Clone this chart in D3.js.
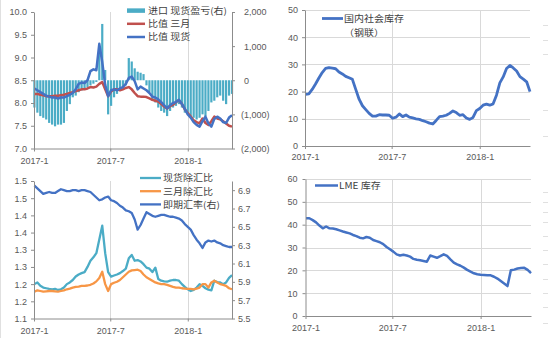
<!DOCTYPE html>
<html><head><meta charset="utf-8">
<script src="https://cdn.jsdelivr.net/npm/d3@7/dist/d3.min.js"></script>
<style>
html,body{margin:0;padding:0;background:#fff;}
svg{display:block;}
.tick text,.lbl{font-family:"Liberation Sans",Arial,sans-serif;font-size:9px;fill:#595959;}
.leg{font-family:"Noto Sans CJK SC",sans-serif;font-size:10px;fill:#404040;}
</style></head><body>
<svg id="c" width="548" height="338"></svg>
<script>
// ---- data (weekly observations starting 2017-01-02) ----
const firstDate = "2017-01-02";
const xTickLabels = ["2017-1", "2017-7", "2018-1"];
const xTickDateStr = ["2017-01-01", "2017-07-01", "2018-01-01"];

// top-left: 比值 现货 / 比值 三月 (left), 进口 现货盈亏 (right)
const ratioSpot = [8.32,8.28,8.24,8.2,8.16,8.14,8.12,8.12,8.1,8.12, 8.12,8.15,8.18,8.22,8.3,8.42,8.45,8.44,8.5,8.7, 8.74,8.72,9.3,8.9,8.4,8.15,8.28,8.3,8.28,8.32, 8.35,8.42,8.55,8.58,8.48,8.3,8.36,8.32,8.28,8.22, 8.14,8.12,8.08,8.02,7.95,7.88,7.95,8.0,8.02,8.07, 7.98,7.87,7.75,7.68,7.58,7.52,7.48,7.6,7.7,7.55, 7.48,7.65,7.7,7.66,7.58,7.56,7.68,7.73];
const ratio3M = [8.2,8.2,8.18,8.17,8.15,8.15,8.15,8.16,8.16,8.17, 8.18,8.2,8.22,8.24,8.26,8.28,8.3,8.3,8.32,8.35, 8.34,8.36,8.42,8.46,8.3,8.15,8.25,8.3,8.3,8.28, 8.3,8.33,8.35,8.3,8.22,8.15,8.14,8.14,8.13,8.1, 8.07,8.05,8.03,7.98,7.92,7.88,7.93,7.96,8.02,8.06, 7.98,7.86,7.78,7.7,7.62,7.58,7.55,7.66,7.56,7.52, 7.6,7.7,7.66,7.64,7.6,7.55,7.5,7.48];
const importPL = [-800,-950,-1050,-1100,-1150,-1250,-1300,-1350,-1300,-1300, -1250,-900,-700,-500,-450,-350,-300,-250,-200,-150, -100,-50,900,1650,300,-1000,-750,-500,-400,-300, -250,-150,650,550,350,250,220,180,-150,-350, -600,-650,-800,-900,-950,-1050,-900,-800,-750,-700, -800,-950,-1000,-1050,-1100,-1150,-1100,-1000,-1050,-900, -650,-600,-500,-450,-600,-700,-450,-400];
const tlLeftTicks = [7.0,7.5,8.0,8.5,9.0,9.5,10.0];
const tlRightTicks = [-2000,-1000,0,1000,2000];

// top-right: 国内社会库存（钢联）
const socialStock = [19.0,19.2,20.8,22.8,25.0,27.0,28.5,28.8,28.6,28.4, 27.2,26.5,25.6,25.1,24.5,20.8,17.2,14.8,13.4,12.0, 11.0,11.0,11.5,11.4,11.4,11.3,10.2,10.6,11.8,10.8, 11.4,10.6,10.3,10.0,9.8,9.3,8.9,8.4,8.1,9.4, 10.8,11.0,11.3,12.0,12.9,12.3,11.3,11.5,10.3,9.8, 10.5,13.0,13.8,15.0,15.4,15.0,15.5,18.7,23.2,25.4, 28.5,29.6,28.7,27.6,25.5,24.6,23.6,20.0];
const trTicks = [0,10,20,30,40,50];

// bottom-left: 现货除汇比 / 三月除汇比 (left), 即期汇率 (right)
const spotFxRatio = [1.2,1.205,1.195,1.19,1.188,1.186,1.185,1.186,1.183,1.185, 1.19,1.2,1.205,1.212,1.222,1.228,1.232,1.235,1.25,1.268, 1.278,1.29,1.33,1.37,1.29,1.235,1.222,1.225,1.228,1.232, 1.238,1.245,1.275,1.285,1.268,1.27,1.266,1.258,1.248,1.245, 1.235,1.248,1.215,1.21,1.208,1.207,1.21,1.212,1.212,1.21, 1.2,1.192,1.185,1.18,1.183,1.19,1.2,1.195,1.188,1.184, 1.182,1.21,1.206,1.205,1.2,1.205,1.218,1.226];
const m3FxRatio = [1.178,1.182,1.18,1.178,1.179,1.18,1.18,1.179,1.178,1.18, 1.182,1.185,1.187,1.19,1.192,1.193,1.195,1.195,1.196,1.198, 1.202,1.208,1.218,1.236,1.2,1.18,1.2,1.204,1.207,1.212, 1.22,1.228,1.236,1.24,1.241,1.242,1.238,1.228,1.22,1.215, 1.21,1.205,1.202,1.2,1.2,1.198,1.195,1.192,1.19,1.19, 1.188,1.187,1.186,1.186,1.185,1.187,1.19,1.2,1.2,1.19, 1.205,1.21,1.205,1.2,1.198,1.195,1.188,1.185];
const usdCny = [6.95,6.92,6.89,6.86,6.87,6.88,6.87,6.87,6.89,6.91, 6.9,6.89,6.89,6.9,6.9,6.89,6.9,6.9,6.89,6.88, 6.85,6.82,6.79,6.8,6.82,6.83,6.79,6.78,6.76,6.73, 6.71,6.68,6.67,6.65,6.58,6.47,6.52,6.59,6.66,6.64, 6.62,6.61,6.62,6.63,6.63,6.62,6.61,6.61,6.6,6.59, 6.57,6.53,6.5,6.47,6.41,6.36,6.32,6.27,6.33,6.35, 6.34,6.35,6.33,6.32,6.3,6.29,6.28,6.28];
const blLeftTicks = [1.10,1.15,1.20,1.25,1.30,1.35,1.40,1.45,1.50];
const blLeftTickLabels = ["1.1","1.2","1.2","1.3","1.3","1.4","1.4","1.5","1.5"];
const blRightTicks = [5.5,5.7,5.9,6.1,6.3,6.5,6.7,6.9];

// bottom-right: LME 库存
const lmeStock = [42.8,42.8,42.0,41.0,39.6,38.4,39.2,38.4,38.3,38.0, 37.5,37.0,36.6,36.2,35.5,35.0,34.3,34.0,34.6,34.3, 33.3,32.8,32.3,31.5,30.2,29.2,28.2,27.0,26.5,26.8, 26.5,26.0,25.0,24.6,24.4,24.1,23.8,26.5,26.0,25.5, 26.2,27.0,26.3,24.8,23.4,22.6,22.0,21.2,20.2,19.4, 18.7,18.3,18.1,18.0,17.9,17.8,17.2,16.4,15.3,14.2, 13.1,20.0,20.3,20.8,21.0,21.1,20.2,18.8];
const brTicks = [0,10,20,30,40,50,60];

// ---- drawing ----
const parse = d3.timeParse("%Y-%m-%d");
const d0 = parse(firstDate);
const dates = importPL.map((_, i) => d3.timeDay.offset(d0, 7 * i));
const xTickDates = xTickDateStr.map(parse);
const xDomain = [parse("2017-01-01"), parse("2018-04-16")];
const AXIS = "#8c8c8c", GRID = "#d9d9d9";
const svg = d3.select("#c");

// faint remnants of neighbouring sheet objects at the picture edges
svg.append("line").attr("x1", 0.5).attr("x2", 0.5).attr("y1", 0).attr("y2", 338).attr("stroke", "#e0e0e0");
[25, 40, 54, 110, 136, 192, 202, 212, 222, 236, 250, 264, 279, 293, 307, 323].forEach(yy =>
  svg.append("line").attr("x1", 543).attr("x2", 548).attr("y1", yy + 0.5).attr("y2", yy + 0.5).attr("stroke", "#e0e0e0"));

function styleAxis(g) {
  g.select(".domain").attr("stroke", AXIS);
  g.selectAll(".tick line").attr("stroke", AXIS);
  g.selectAll(".tick text").attr("fill", "#595959");
}

function legendText(g, x, y, t) {
  const el = g.append("text").attr("class", "leg").attr("x", x).attr("y", y).text(t);
  const w = el.node().getComputedTextLength();
  el.style("font-size", "9px").attr("textLength", w).attr("lengthAdjust", "spacingAndGlyphs");
  return el;
}

function makePanel(p) {
  const x = d3.scaleTime().domain(xDomain).range([p.x0, p.x1]);
  const g = svg.append("g");
  g.selectAll(".vg").data(xTickDates.slice(1)).join("line")
    .attr("x1", d => Math.round(x(d)) + 0.5).attr("x2", d => Math.round(x(d)) + 0.5)
    .attr("y1", p.y0).attr("y2", p.y1).attr("stroke", GRID).attr("stroke-width", 1);
  return {x, g};
}

function bottomAxis(P, p, pad) {
  P.g.append("g").attr("transform", `translate(0,${p.y1})`)
    .call(d3.axisBottom(P.x).tickValues(xTickDates).tickFormat((d, i) => xTickLabels[i])
      .tickSize(3).tickSizeOuter(0).tickPadding(pad))
    .call(styleAxis);
}

function lineOf(x, y, vals) {
  return d3.line().x((d, i) => x(dates[i])).y(d => y(d))(vals);
}

// ===== Top-left =====
{
  const p = {x0: 34, x1: 232, y0: 12, y1: 148.5};
  const P = makePanel(p);
  const yL = d3.scaleLinear().domain([7, 10]).range([p.y1, p.y0]);
  const yR = d3.scaleLinear().domain([-2000, 2000]).range([p.y1, p.y0]);
  P.g.selectAll(".bar").data(importPL).join("rect")
    .attr("x", (d, i) => P.x(dates[i]) - 1.1).attr("width", 2.2)
    .attr("y", d => Math.min(yR(d), yR(0))).attr("height", d => Math.abs(yR(d) - yR(0)))
    .attr("fill", "#4bacc6");
  P.g.append("path").attr("d", lineOf(P.x, yL, ratio3M)).attr("fill", "none")
    .attr("stroke", "#c0504d").attr("stroke-width", 2.5).attr("stroke-linejoin", "round");
  P.g.append("path").attr("d", lineOf(P.x, yL, ratioSpot)).attr("fill", "none")
    .attr("stroke", "#4472c4").attr("stroke-width", 2.5).attr("stroke-linejoin", "round");
  P.g.append("g").attr("transform", `translate(${p.x0},0)`)
    .call(d3.axisLeft(yL).tickValues(tlLeftTicks).tickFormat(d3.format(".1f")).tickSize(3).tickSizeOuter(0).tickPadding(4))
    .call(styleAxis);
  const ra = P.g.append("g").attr("transform", `translate(${p.x1},0)`)
    .call(d3.axisRight(yR).tickValues(tlRightTicks)
      .tickFormat(d => d < 0 ? "(" + d3.format(",")(-d) + ")" : d3.format(",")(d))
      .tickSize(3).tickSizeOuter(0).tickPadding(6))
    .call(styleAxis);
  ra.selectAll(".tick text").attr("fill", d => d < 0 ? "#ff0000" : "#595959")
    .attr("dx", d => d < 0 ? 0 : 3);
  bottomAxis(P, p, 6.4);
  const leg = [
    {t: "进口 现货盈亏(右)", c: "#4bacc6", w: 4.5, y: 10.6},
    {t: "比值 三月", c: "#c0504d", w: 2.5, y: 23.8},
    {t: "比值 现货", c: "#4472c4", w: 2.5, y: 37}
  ];
  leg.forEach(l => {
    P.g.append("line").attr("x1", 127).attr("x2", 145).attr("y1", l.y).attr("y2", l.y)
      .attr("stroke", l.c).attr("stroke-width", l.w);
    legendText(P.g, 148, l.y + 3.4, l.t);
  });
}

// ===== Top-right =====
{
  const p = {x0: 305, x1: 530, y0: 10, y1: 146};
  const P = makePanel(p);
  const y = d3.scaleLinear().domain([0, 50]).range([p.y1, p.y0]);
  P.g.selectAll(".hg").data(trTicks.slice(1)).join("line")
    .attr("x1", p.x0).attr("x2", p.x1).attr("y1", d => Math.round(y(d)) + 0.5).attr("y2", d => Math.round(y(d)) + 0.5)
    .attr("stroke", GRID);
  P.g.append("path").attr("d", lineOf(P.x, y, socialStock)).attr("fill", "none")
    .attr("stroke", "#4472c4").attr("stroke-width", 2.8).attr("stroke-linejoin", "round");
  P.g.append("g").attr("transform", `translate(${p.x0},0)`)
    .call(d3.axisLeft(y).tickValues(trTicks).tickFormat(d3.format("d")).tickSize(3).tickSizeOuter(0).tickPadding(4))
    .call(styleAxis);
  bottomAxis(P, p, 5);
  P.g.append("line").attr("x1", 322).attr("x2", 343).attr("y1", 18.5).attr("y2", 18.5)
    .attr("stroke", "#4472c4").attr("stroke-width", 2.8);
  legendText(P.g, 344, 22, "国内社会库存");
  legendText(P.g, 344, 36, "（钢联）");
}

// ===== Bottom-left =====
{
  const p = {x0: 34, x1: 232, y0: 181, y1: 318.5};
  const P = makePanel(p);
  const yL = d3.scaleLinear().domain([1.1, 1.5]).range([p.y1, p.y0]);
  const yR = d3.scaleLinear().domain([5.5, 7.0]).range([p.y1, p.y0]);
  P.g.append("path").attr("d", lineOf(P.x, yL, spotFxRatio)).attr("fill", "none")
    .attr("stroke", "#4bacc6").attr("stroke-width", 2.3).attr("stroke-linejoin", "round");
  P.g.append("path").attr("d", lineOf(P.x, yL, m3FxRatio)).attr("fill", "none")
    .attr("stroke", "#f79646").attr("stroke-width", 2.3).attr("stroke-linejoin", "round");
  P.g.append("path").attr("d", lineOf(P.x, yR, usdCny)).attr("fill", "none")
    .attr("stroke", "#4472c4").attr("stroke-width", 2.3).attr("stroke-linejoin", "round");
  P.g.append("g").attr("transform", `translate(${p.x0},0)`)
    .call(d3.axisLeft(yL).tickValues(blLeftTicks).tickFormat((d, i) => blLeftTickLabels[i]).tickSize(3).tickSizeOuter(0).tickPadding(4))
    .call(styleAxis);
  P.g.append("g").attr("transform", `translate(${p.x1},0)`)
    .call(d3.axisRight(yR).tickValues(blRightTicks).tickFormat(d3.format(".1f")).tickSize(3).tickSizeOuter(0).tickPadding(3))
    .call(styleAxis);
  bottomAxis(P, p, 6.4);
  const leg = [
    {t: "现货除汇比", c: "#4bacc6", y: 178},
    {t: "三月除汇比", c: "#f79646", y: 191.2},
    {t: "即期汇率(右)", c: "#4472c4", y: 204.4}
  ];
  leg.forEach(l => {
    P.g.append("line").attr("x1", 140).attr("x2", 161).attr("y1", l.y).attr("y2", l.y)
      .attr("stroke", l.c).attr("stroke-width", 2.3);
    legendText(P.g, 163, l.y + 3.4, l.t);
  });
}

// ===== Bottom-right =====
{
  const p = {x0: 305.5, x1: 531, y0: 179, y1: 316};
  const P = makePanel(p);
  const y = d3.scaleLinear().domain([0, 60]).range([p.y1, p.y0]);
  P.g.selectAll(".hg").data(brTicks.slice(1)).join("line")
    .attr("x1", p.x0).attr("x2", p.x1).attr("y1", d => Math.round(y(d)) + 0.5).attr("y2", d => Math.round(y(d)) + 0.5)
    .attr("stroke", GRID);
  P.g.append("path").attr("d", lineOf(P.x, y, lmeStock)).attr("fill", "none")
    .attr("stroke", "#4472c4").attr("stroke-width", 2.5).attr("stroke-linejoin", "round");
  P.g.append("g").attr("transform", `translate(${p.x0},0)`)
    .call(d3.axisLeft(y).tickValues(brTicks).tickFormat(d3.format("d")).tickSize(3).tickSizeOuter(0).tickPadding(5))
    .call(styleAxis);
  bottomAxis(P, p, 6);
  P.g.append("line").attr("x1", 315).attr("x2", 338).attr("y1", 185.5).attr("y2", 185.5)
    .attr("stroke", "#4472c4").attr("stroke-width", 2.5);
  legendText(P.g, 339, 189.2, "LME 库存");
}
</script>
</body></html>
